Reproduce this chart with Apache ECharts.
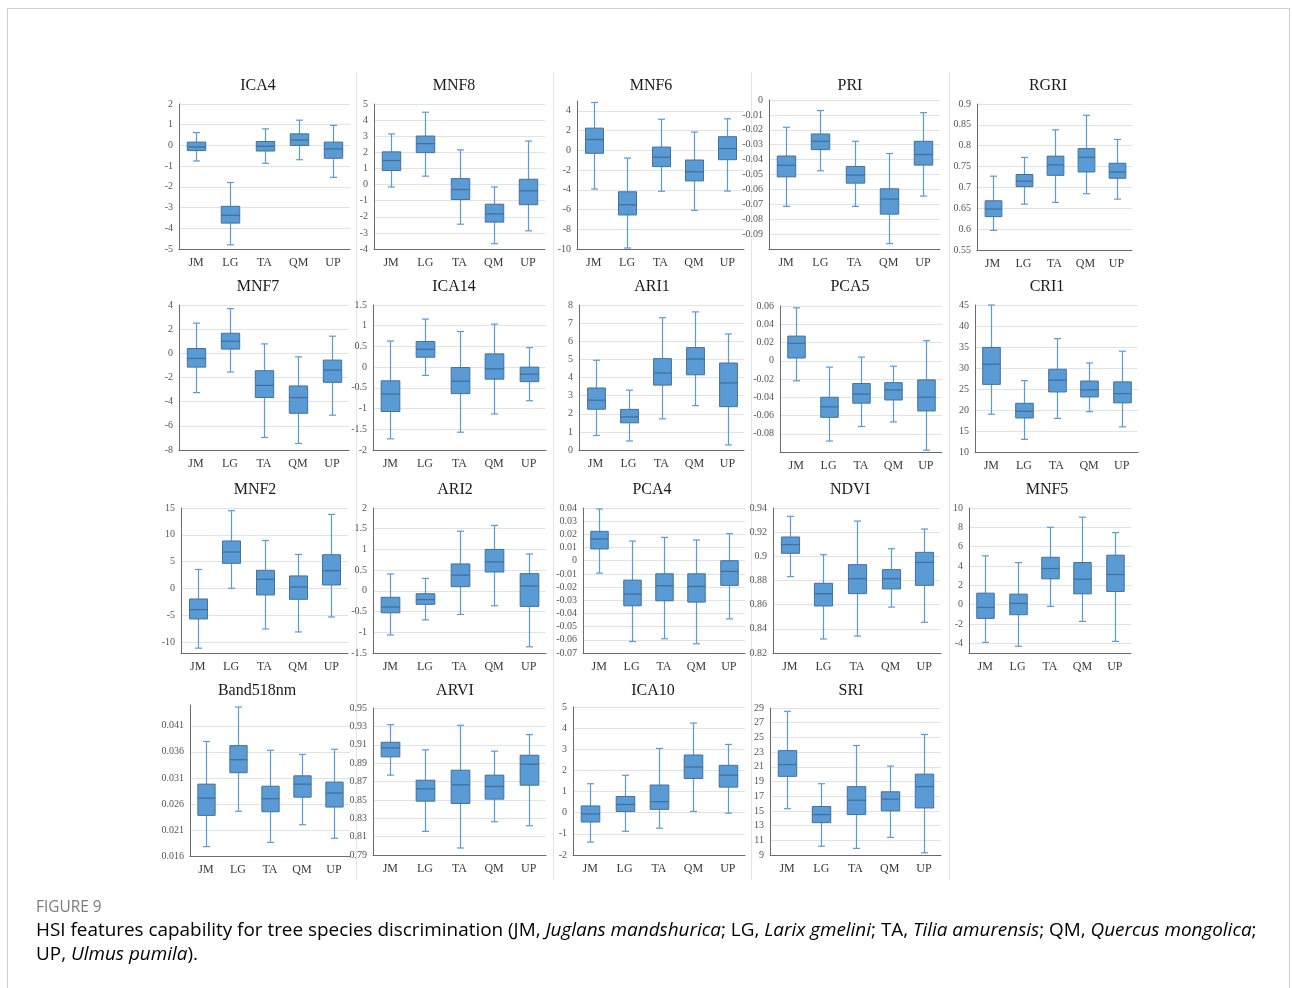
<!DOCTYPE html>
<html>
<head>
<meta charset="utf-8">
<title>HSI features capability for tree species discrimination</title>
<script src="https://cdn.jsdelivr.net/npm/echarts@6/dist/echarts.min.js"></script>
<style>
  html, body { margin: 0; padding: 0; background: #ffffff; }
  #chart { width: 1292px; height: 988px; }
</style>
</head>
<body>
<div id="chart"></div>
<script>
// Tree species (x categories of every panel)
const categories = ['JM', 'LG', 'TA', 'QM', 'UP'];

// Box statistics per species: [min, Q1, median, Q3, max]
const ICA4 = [[-0.75, -0.25, -0.07, 0.16, 0.62], [-4.8, -3.75, -3.37, -2.94, -1.79], [-0.86, -0.27, -0.04, 0.19, 0.8], [-0.69, 0.0, 0.26, 0.56, 1.22], [-1.54, -0.62, -0.17, 0.16, 0.97]];
const MNF8 = [[-0.15, 0.87, 1.49, 2.03, 3.14], [0.52, 1.98, 2.54, 3.01, 4.49], [-2.46, -0.93, -0.31, 0.37, 2.15], [-3.67, -2.33, -1.82, -1.22, -0.15], [-2.87, -1.25, -0.39, 0.33, 2.7]];
const MNF6 = [[-3.92, -0.3, 1.1, 2.25, 4.85], [-9.9, -6.55, -5.52, -4.2, -0.78], [-4.15, -1.65, -0.7, 0.33, 3.15], [-6.08, -3.1, -2.17, -0.98, 1.85], [-4.13, -0.95, 0.18, 1.38, 3.2]];
const PRI = [[-0.0714, -0.0516, -0.0438, -0.0376, -0.0183], [-0.0475, -0.0333, -0.0277, -0.0228, -0.0071], [-0.0714, -0.0558, -0.0504, -0.0446, -0.0277], [-0.0964, -0.0766, -0.0665, -0.0596, -0.0359], [-0.0645, -0.0437, -0.0366, -0.0277, -0.0085]];
const RGRI = [[0.597, 0.630, 0.648, 0.668, 0.727], [0.660, 0.702, 0.715, 0.731, 0.772], [0.664, 0.729, 0.754, 0.775, 0.838], [0.685, 0.737, 0.772, 0.793, 0.873], [0.672, 0.722, 0.737, 0.758, 0.815]];
const MNF7 = [[-3.25, -1.14, -0.42, 0.4, 2.5], [-1.55, 0.35, 1.0, 1.66, 3.7], [-6.96, -3.66, -2.65, -1.44, 0.78], [-7.46, -4.96, -3.66, -2.7, -0.29], [-5.12, -2.4, -1.38, -0.56, 1.42]];
const ICA14 = [[-1.73, -1.07, -0.65, -0.33, 0.63], [-0.2, 0.24, 0.43, 0.62, 1.16], [-1.57, -0.64, -0.34, -0.01, 0.86], [-1.13, -0.29, -0.04, 0.32, 1.04], [-0.81, -0.35, -0.17, 0.0, 0.47]];
const ARI1 = [[0.8, 2.25, 2.75, 3.42, 4.95], [0.5, 1.5, 1.83, 2.24, 3.3], [1.72, 3.58, 4.25, 5.04, 7.3], [2.45, 4.15, 5.02, 5.65, 7.62], [0.28, 2.39, 3.7, 4.8, 6.4]];
const PCA5 = [[-0.022, 0.003, 0.019, 0.027, 0.058], [-0.088, -0.062, -0.0505, -0.040, -0.007], [-0.072, -0.0465, -0.0365, -0.025, 0.004], [-0.067, -0.043, -0.032, -0.024, -0.006], [-0.098, -0.055, -0.040, -0.021, 0.022]];
const CRI1 = [[19.0, 26.1, 30.9, 34.9, 45.0], [13.0, 18.1, 19.7, 21.6, 27.0], [18.0, 24.3, 27.1, 29.7, 37.0], [19.6, 23.1, 24.8, 26.9, 31.2], [16.0, 21.7, 23.9, 26.7, 34.0]];
const MNF2 = [[-11.1, -5.66, -3.92, -1.94, 3.55], [0.05, 4.7, 6.8, 8.86, 14.5], [-7.52, -1.19, 1.73, 3.4, 8.95], [-8.08, -2.0, 0.3, 2.35, 6.35], [-5.29, 0.67, 3.34, 6.3, 13.8]];
const ARI2 = [[-1.065, -0.53, -0.39, -0.156, 0.407], [-0.70, -0.325, -0.21, -0.07, 0.30], [-0.57, 0.10, 0.38, 0.65, 1.44], [-0.36, 0.455, 0.70, 1.0, 1.58], [-1.35, -0.375, 0.117, 0.415, 0.89]];
const PCA4 = [[-0.0094, 0.0089, 0.0165, 0.0223, 0.0392], [-0.0613, -0.0342, -0.0253, -0.0147, 0.0149], [-0.0592, -0.0304, -0.019, -0.0099, 0.0177], [-0.063, -0.0314, -0.0195, -0.0099, 0.0157], [-0.0441, -0.0187, -0.0081, 0.0, 0.0205]];
const NDVI = [[0.8832, 0.9025, 0.9097, 0.916, 0.9331], [0.8316, 0.8589, 0.8691, 0.8777, 0.9014], [0.834, 0.8691, 0.8815, 0.8931, 0.9292], [0.858, 0.873, 0.8815, 0.889, 0.9063], [0.8454, 0.876, 0.895, 0.9033, 0.9226]];
const MNF5 = [[-3.9, -1.42, -0.29, 1.19, 5.05], [-4.3, -1.04, 0.13, 1.09, 4.35], [-0.18, 2.67, 3.74, 4.9, 8.0], [-1.73, 1.12, 2.63, 4.36, 9.05], [-3.8, 1.37, 3.12, 5.12, 7.45]];
const Band518nm = [[0.0178, 0.0238, 0.0271, 0.0298, 0.0380], [0.0246, 0.0320, 0.0345, 0.0372, 0.0446], [0.0186, 0.0245, 0.0270, 0.0294, 0.0363], [0.0220, 0.0273, 0.0298, 0.0314, 0.0355], [0.0194, 0.0254, 0.0281, 0.0302, 0.0365]];
const ARVI = [[0.8769, 0.8968, 0.9066, 0.9127, 0.9319], [0.8157, 0.8486, 0.862, 0.8714, 0.9044], [0.7976, 0.8461, 0.8664, 0.8823, 0.9312], [0.8262, 0.8508, 0.8646, 0.8769, 0.903], [0.8219, 0.866, 0.8888, 0.8986, 0.921]];
const ICA10 = [[-1.39, -0.44, -0.06, 0.32, 1.37], [-0.88, 0.06, 0.39, 0.77, 1.77], [-0.73, 0.16, 0.52, 1.31, 3.04], [0.06, 1.62, 2.16, 2.73, 4.24], [-0.02, 1.21, 1.78, 2.24, 3.23]];
const SRI = [[15.3, 19.7, 21.3, 23.2, 28.55], [10.2, 13.4, 14.5, 15.6, 18.7], [9.9, 14.5, 16.45, 18.3, 23.9], [11.4, 15.0, 16.6, 17.6, 21.1], [9.3, 15.4, 18.3, 20.0, 25.4]];

// Panel order (row by row) and titles
const panelTitles = ['ICA4', 'MNF8', 'MNF6', 'PRI', 'RGRI',
                     'MNF7', 'ICA14', 'ARI1', 'PCA5', 'CRI1',
                     'MNF2', 'ARI2', 'PCA4', 'NDVI', 'MNF5',
                     'Band518nm', 'ARVI', 'ICA10', 'SRI'];
const panelData = [ICA4, MNF8, MNF6, PRI, RGRI,
                   MNF7, ICA14, ARI1, PCA5, CRI1,
                   MNF2, ARI2, PCA4, NDVI, MNF5,
                   Band518nm, ARVI, ICA10, SRI];

// Value-axis ticks per panel: range and step
const yMin  = [-5, -4, -10, -0.1, 0.55,  -8, -2, 0, -0.1, 10,  -12, -1.5, -0.07, 0.82, -5,  0.016, 0.79, -2, 9];
const yMax  = [ 2,  5,   5,  0,   0.9,    4, 1.5, 8, 0.06, 45,   15,  2,    0.04, 0.94, 10,  0.045, 0.95,  5, 29];
const yStep = [ 1,  1,   2,  0.01, 0.05,  2, 0.5, 1, 0.02, 5,     5,  0.5,  0.01, 0.02,  2,  0.005, 0.02,  1, 2];
// Panels whose tick labels sit on round multiples rather than starting at the axis minimum
const zeroAlignedTicks = ['MNF2', 'MNF5'];
// Axis end values that carry no label
const hideMinLabel = ['PRI', 'PCA5', 'MNF2', 'MNF5'];
const hideMaxLabel = ['MNF6', 'Band518nm'];

// ---- layout: plot rectangles [left, top, right, bottom] and title centres ----
const plotRects = [
  [179, 104, 350, 249], [374, 104, 545, 249], [577, 101, 744, 249], [769, 100, 940, 249], [977, 104, 1132, 250],
  [179, 305, 349, 450], [373, 305, 546, 450], [579, 305, 744, 450], [780, 306, 942, 452], [975, 305, 1138, 452],
  [181, 508, 348, 653], [373, 508, 546, 653], [583, 508, 745, 653], [773, 508, 941, 653], [969, 508, 1131, 653],
  [190, 705, 350, 856], [373, 708, 546, 855], [573, 707, 745, 855], [770, 708, 941, 855]
];
const titlePos = [
  [258, 86], [454, 86], [651, 86], [850, 86], [1048, 86],
  [258, 287], [454, 287], [652, 287], [850, 287], [1047, 287],
  [255, 490], [455, 490], [652, 490], [850, 490], [1047, 490],
  [257, 691], [455, 691], [653, 691], [851, 691]
];

const SERIF = '"Liberation Serif", "Times New Roman", serif';
const BOX_FILL = '#5b9bd5';
const BOX_EDGE = '#41719c';
const WHISKER = '#5b9bd5';

// Draws one box-and-whisker glyph from [cat, min, q1, median, q3, max]
function renderBox(params, api) {
  const c = api.value(0);
  const lo = api.coord([c, api.value(1)]);
  const q1 = api.coord([c, api.value(2)]);
  const md = api.coord([c, api.value(3)]);
  const q3 = api.coord([c, api.value(4)]);
  const hi = api.coord([c, api.value(5)]);
  const band = api.size([1, 0])[0];
  const half = band * 0.27;
  const cap = 3.5;
  const x = Math.round(md[0]) + 0.5;
  const ws = { stroke: WHISKER, lineWidth: 1.2 };
  return {
    type: 'group',
    children: [
      { type: 'line', shape: { x1: x, y1: hi[1], x2: x, y2: q3[1] }, style: ws },
      { type: 'line', shape: { x1: x, y1: q1[1], x2: x, y2: lo[1] }, style: ws },
      { type: 'line', shape: { x1: x - cap, y1: hi[1], x2: x + cap, y2: hi[1] }, style: ws },
      { type: 'line', shape: { x1: x - cap, y1: lo[1], x2: x + cap, y2: lo[1] }, style: ws },
      { type: 'rect', shape: { x: x - half, y: q3[1], width: half * 2, height: q1[1] - q3[1] },
        style: { fill: BOX_FILL, stroke: BOX_EDGE, lineWidth: 1 } },
      { type: 'line', shape: { x1: x - half, y1: md[1], x2: x + half, y2: md[1] },
        style: { stroke: BOX_EDGE, lineWidth: 1.3 } }
    ]
  };
}

const grid = [], xAxis = [], yAxis = [], series = [], graphic = [];

panelTitles.forEach((name, i) => {
  const [l, t, r, b] = plotRects[i];
  grid.push({ left: l, top: t, width: r - l, height: b - t });

  xAxis.push({
    type: 'category', gridIndex: i, data: categories, boundaryGap: true,
    axisLine: { onZero: false, lineStyle: { color: '#6b6b6b', width: 1 } },
    axisTick: { show: false },
    axisLabel: { fontFamily: SERIF, fontSize: 12, color: '#3a3a3a', margin: 8 },
    splitLine: { show: false }
  });

  const y = {
    type: 'value', gridIndex: i, min: yMin[i], max: yMax[i],
    axisLine: { show: true, lineStyle: { color: '#6b6b6b', width: 1 } },
    axisTick: { show: false },
    axisLabel: {
      fontFamily: SERIF, fontSize: 10, color: '#555555', margin: 6,
      showMinLabel: !hideMinLabel.includes(name),
      showMaxLabel: !hideMaxLabel.includes(name)
    },
    splitLine: { show: true, showMinLine: false, showMaxLine: !hideMaxLabel.includes(name),
                 lineStyle: { color: '#e2e2e2', width: 1 } }
  };
  if (zeroAlignedTicks.includes(name)) {
    y.splitNumber = Math.round((yMax[i] - yMin[i]) / yStep[i]);
  } else {
    y.interval = yStep[i];
  }
  yAxis.push(y);

  series.push({
    type: 'custom', name: name, xAxisIndex: i, yAxisIndex: i,
    renderItem: renderBox,
    encode: { x: 0, y: [1, 2, 3, 4, 5] },
    data: panelData[i].map((v, j) => [j].concat(v)),
    silent: true
  });

  graphic.push({
    type: 'text', x: titlePos[i][0], y: titlePos[i][1],
    style: { text: name, font: '16px ' + SERIF, fill: '#1a1a1a', align: 'center', verticalAlign: 'middle' }
  });
});

// thin separators between panel columns
[356, 553, 751, 949].forEach(x => {
  graphic.push({ type: 'line', shape: { x1: x + 0.5, y1: 72, x2: x + 0.5, y2: 880 },
                 style: { stroke: '#e4e4e4', lineWidth: 1 } });
});

// outer frame
graphic.push({ type: 'rect', shape: { x: 7.5, y: 8.5, width: 1282, height: 990 },
               style: { fill: 'none', stroke: '#cfcfcf', lineWidth: 1 } });

// figure caption
const CAP_FONT = '"Open Sans", "Noto Sans", sans-serif';
graphic.push({ type: 'text', x: 36, y: 908,
  style: { text: 'FIGURE 9', font: '15.4px ' + CAP_FONT, fill: '#7b7b7b', verticalAlign: 'middle' } });
const capRich = {
  n: { fontFamily: CAP_FONT, fontSize: 18.9, color: '#606060' },
  i: { fontFamily: CAP_FONT, fontSize: 18.9, color: '#606060', fontStyle: 'italic' }
};
graphic.push({ type: 'text', x: 36, y: 931,
  style: {
    text: '{n|HSI features capability for tree species discrimination (JM, }{i|Juglans mandshurica}{n|; LG, }{i|Larix gmelini}{n|; TA, }{i|Tilia amurensis}{n|; QM, }{i|Quercus mongolica}{n|;}',
    rich: capRich, verticalAlign: 'middle'
  } });
graphic.push({ type: 'text', x: 36, y: 955,
  style: { text: '{n|UP, }{i|Ulmus pumila}{n|).}', rich: capRich, verticalAlign: 'middle' } });

const chart = echarts.init(document.getElementById('chart'), null, { renderer: 'canvas' });
chart.setOption({
  backgroundColor: '#ffffff',
  animation: false,
  grid, xAxis, yAxis, series, graphic
});
</script>
</body>
</html>
